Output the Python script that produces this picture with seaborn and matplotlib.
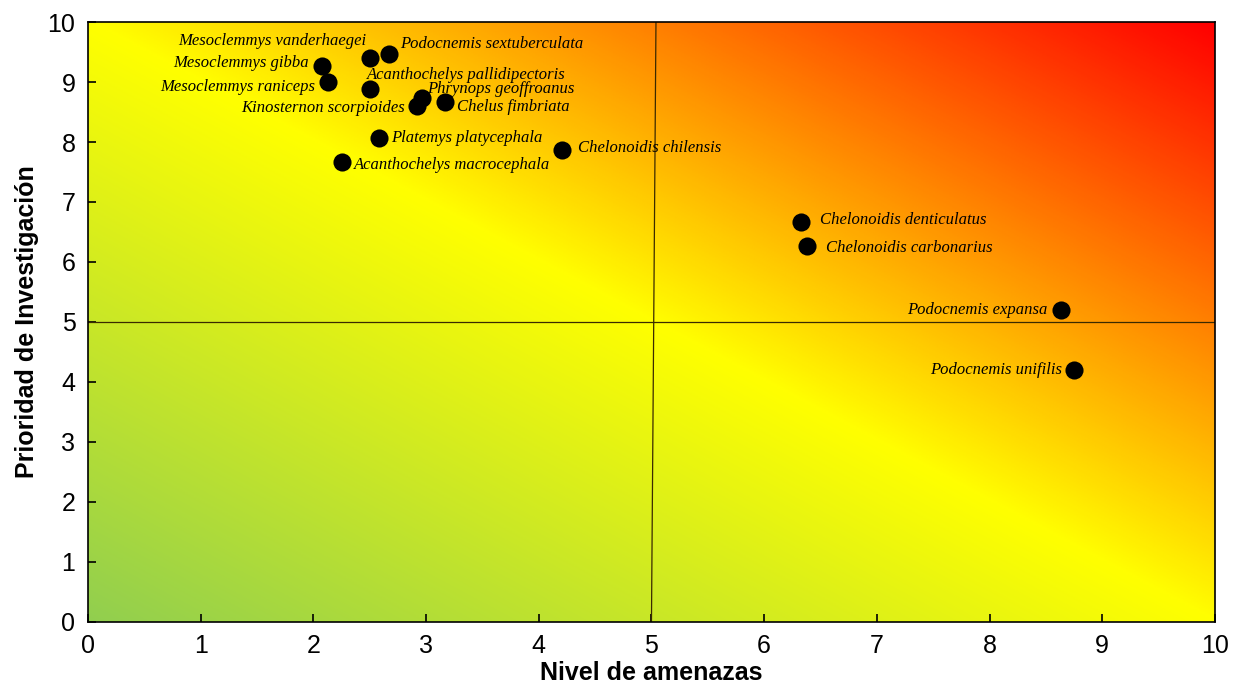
import matplotlib.pyplot as plt
import matplotlib.colors as mcolors
import numpy as np
import pandas as pd
import seaborn as sns

species = ['Mesoclemmys vanderhaegei', 'Podocnemis sextuberculata', 'Mesoclemmys gibba',
           'Mesoclemmys raniceps', 'Acanthochelys pallidipectoris', 'Phrynops geoffroanus',
           'Kinosternon scorpioides', 'Chelus fimbriata', 'Platemys platycephala',
           'Acanthochelys macrocephala', 'Chelonoidis chilensis', 'Chelonoidis denticulatus',
           'Chelonoidis carbonarius', 'Podocnemis expansa', 'Podocnemis unifilis']
amenazas = [2.50, 2.67, 2.08, 2.13, 2.50, 2.96, 2.92, 3.17, 2.58, 2.25, 4.21, 6.33, 6.38, 8.63, 8.75]
prioridad = [9.40, 9.47, 9.27, 9.00, 8.88, 8.73, 8.60, 8.67, 8.07, 7.67, 7.87, 6.67, 6.27, 5.20, 4.20]

# label placement (pixel offsets from the dot, alignment)
label_pos = {
    'Mesoclemmys vanderhaegei': (-3, 17, 'right'),
    'Podocnemis sextuberculata': (11, 10, 'left'),
    'Mesoclemmys gibba': (-14, 3, 'right'),
    'Mesoclemmys raniceps': (-13, -5, 'right'),
    'Acanthochelys pallidipectoris': (-3, 14, 'left'),
    'Phrynops geoffroanus': (6, 9, 'left'),
    'Kinosternon scorpioides': (-12, -2, 'right'),
    'Chelus fimbriata': (12, -5, 'left'),
    'Platemys platycephala': (12, 0, 'left'),
    'Acanthochelys macrocephala': (12, -3, 'left'),
    'Chelonoidis chilensis': (16, 2, 'left'),
    'Chelonoidis denticulatus': (19, 2, 'left'),
    'Chelonoidis carbonarius': (19, -2, 'left'),
    'Podocnemis expansa': (-13, 0, 'right'),
    'Podocnemis unifilis': (-12, 0, 'right'),
}

df = pd.DataFrame({'especie': species, 'amenazas': amenazas, 'prioridad': prioridad})

sns.set_style('ticks')
plt.rcParams['font.family'] = ['Liberation Sans', 'DejaVu Sans']
plt.rcParams['text.color'] = 'black'
plt.rcParams['axes.labelcolor'] = 'black'

fig = plt.figure(figsize=(12.39, 6.9), dpi=100)
ax = fig.add_axes([0.071, 0.0986, 0.9096, 0.8695])

# background gradient: green -> yellow -> red along x + y
cmap = mcolors.LinearSegmentedColormap.from_list(
    'riesgo', [(0.0, (0.57, 0.81, 0.31)), (0.5, (1.0, 1.0, 0.0)), (1.0, (1.0, 0.0, 0.0))])
gx, gy = np.meshgrid(np.linspace(0, 10, 400), np.linspace(0, 10, 400))
ax.imshow((gx + gy) / 20.0, cmap=cmap, origin='lower', extent=[0, 10, 0, 10],
          aspect='auto', interpolation='bilinear', zorder=0)

ax.plot([5, 5.04], [0, 10], color='#3a2a00', lw=0.9, zorder=1)
ax.axhline(5, color='#3a2a00', lw=0.9, zorder=1)

sns.scatterplot(data=df, x='amenazas', y='prioridad', ax=ax, s=170, color='black',
                edgecolor='black', linewidth=0, zorder=3, legend=False)

for name, xv, yv in zip(species, amenazas, prioridad):
    dx, dy, ha = label_pos[name]
    ax.annotate(name, (xv, yv), xytext=(dx, dy), textcoords='offset pixels',
                ha=ha, va='center', fontsize=12, style='italic', color='black',
                family=['Liberation Serif', 'DejaVu Serif'], zorder=4)

ax.set_xlim(0, 10)
ax.set_ylim(0, 10)
ax.set_xticks(range(11))
ax.set_yticks(range(11))
ax.tick_params(direction='in', length=6, width=1.2, labelsize=18, pad=9, colors='black')
for sp in ax.spines.values():
    sp.set_color('black')
    sp.set_linewidth(1.2)
ax.set_xlabel('Nivel de amenazas', fontsize=18, fontweight='bold', labelpad=2, color='black')
ax.set_ylabel('Prioridad de Investigación', fontsize=18, fontweight='bold', labelpad=6, color='black')

fig.savefig('out.png', dpi=100)
